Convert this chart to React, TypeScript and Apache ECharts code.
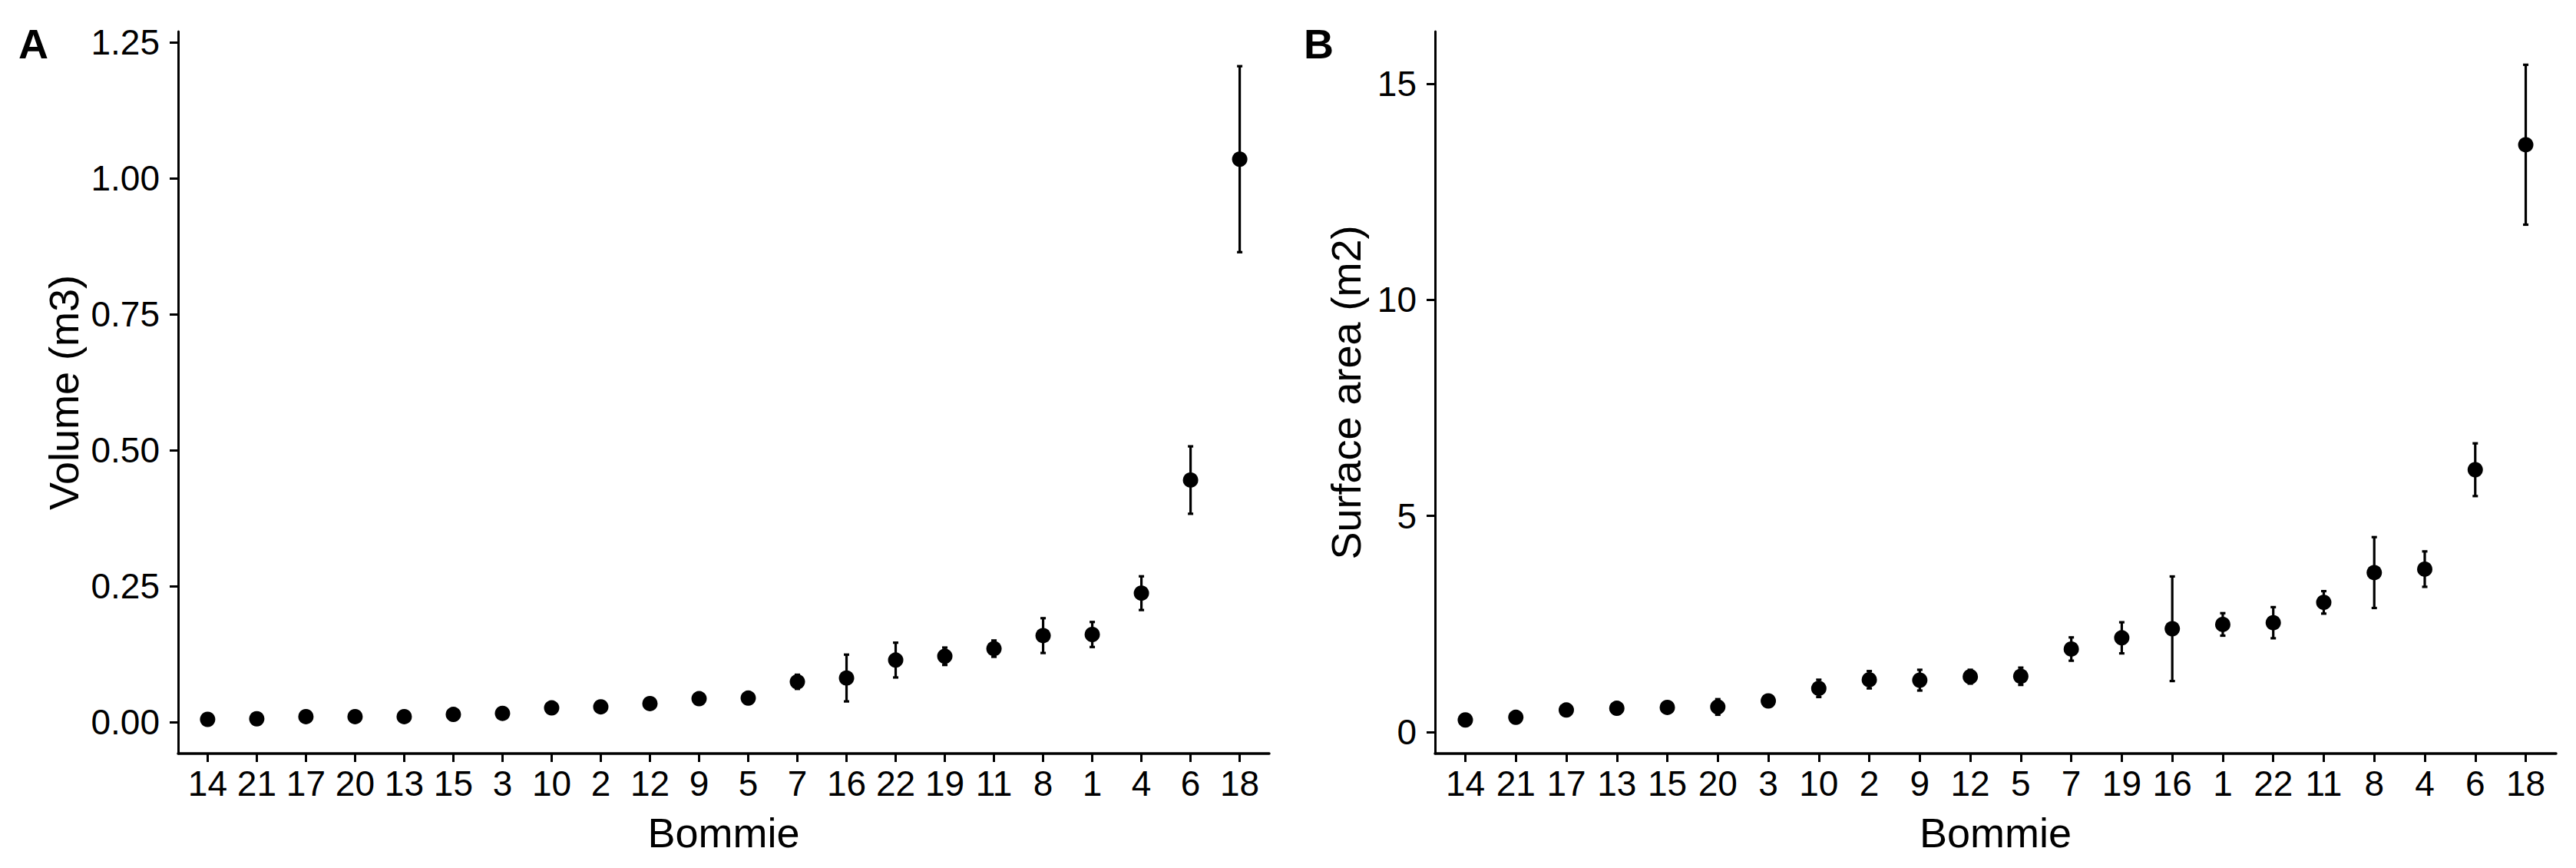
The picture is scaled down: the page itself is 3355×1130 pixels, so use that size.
import React, { useEffect, useRef } from "react";
import * as echarts from "echarts";

const categoriesA = ["14","21","17","20","13","15","3","10","2","12","9","5","7","16","22","19","11","8","1","4","6","18"];
const volumeMean = [0.005,0.006,0.010,0.010,0.010,0.014,0.016,0.026,0.028,0.034,0.043,0.044,0.074,0.081,0.114,0.121,0.135,0.159,0.161,0.237,0.445,1.035];
const volumeErr = [0.003,0.003,0.004,0.006,0.004,0.005,0.006,0.006,0.006,0.006,0.007,0.006,0.013,0.043,0.032,0.016,0.015,0.032,0.023,0.031,0.062,0.171];
const volumeTicks = [0, 0.25, 0.5, 0.75, 1.0, 1.25];

const categoriesB = ["14","21","17","13","15","20","3","10","2","9","12","5","7","19","16","1","22","11","8","4","6","18"];
const areaMean = [0.28,0.34,0.51,0.55,0.57,0.58,0.72,1.01,1.21,1.20,1.28,1.29,1.92,2.18,2.39,2.49,2.53,3.00,3.69,3.77,6.07,13.59];
const areaErr = [0.08,0.10,0.12,0.10,0.10,0.18,0.10,0.20,0.20,0.24,0.16,0.20,0.27,0.36,1.21,0.26,0.36,0.26,0.82,0.41,0.61,1.85];
const areaTicks = [0, 5, 10, 15];

const FONT = "Liberation Sans, Arial, Helvetica, sans-serif";
const BLACK = "#000000";

function errorRender(params: any, api: any) {
  const x = api.value(0);
  const lo = api.value(1);
  const hi = api.value(2);
  const pHi = api.coord([x, hi]);
  const pLo = api.coord([x, lo]);
  const cw = 3.5;
  const st = { stroke: BLACK, lineWidth: 3.2 };
  return {
    type: "group",
    children: [
      { type: "line", shape: { x1: pHi[0], y1: pHi[1], x2: pLo[0], y2: pLo[1] }, style: st },
      { type: "line", shape: { x1: pHi[0] - cw, y1: pHi[1], x2: pHi[0] + cw, y2: pHi[1] }, style: st },
      { type: "line", shape: { x1: pLo[0] - cw, y1: pLo[1], x2: pLo[0] + cw, y2: pLo[1] }, style: st },
    ],
  };
}

export default function App() {
  const ref = useRef<HTMLDivElement>(null);
  useEffect(() => {
    if (!ref.current) return;
    const chart = echarts.init(ref.current, null, { renderer: "svg" });
    const idx = categoriesA.map((_, i) => i);

    const makeX = (gridIndex: number, cats: string[]) => ({
      type: "value",
      gridIndex,
      min: -0.6,
      max: cats.length - 1 + 0.6,
      name: "Bommie",
      nameLocation: "middle",
      nameGap: 76,
      nameTextStyle: { fontFamily: FONT, fontSize: 54, color: BLACK },
      splitLine: { show: false },
      axisLine: { show: true, onZero: false, lineStyle: { color: BLACK, width: 3.5 } },
      axisTick: { show: true, length: 11, customValues: idx, lineStyle: { color: BLACK, width: 3 } },
      axisLabel: {
        customValues: idx,
        margin: 16,
        fontFamily: FONT,
        fontSize: 46,
        color: BLACK,
        formatter: (v: number) => cats[Math.round(v)] ?? "",
      },
    });

    const makeY = (gridIndex: number, min: number, max: number, ticks: number[], name: string, gap: number, fmt: (v: number) => string) => ({
      type: "value",
      gridIndex,
      min,
      max,
      name,
      nameLocation: "middle",
      nameGap: gap,
      nameTextStyle: { fontFamily: FONT, fontSize: 54, color: BLACK },
      splitLine: { show: false },
      axisLine: { show: true, onZero: false, lineStyle: { color: BLACK, width: 3 } },
      axisTick: { show: true, length: 11, customValues: ticks, lineStyle: { color: BLACK, width: 3 } },
      axisLabel: {
        customValues: ticks,
        margin: 24,
        fontFamily: FONT,
        fontSize: 46,
        color: BLACK,
        formatter: fmt,
      },
    });

    const option: any = {
      animation: false,
      backgroundColor: "#ffffff",
      grid: [
        { left: 232, top: 41, width: 1421, height: 940 },
        { left: 1869, top: 41, width: 1460, height: 940 },
      ],
      xAxis: [makeX(0, categoriesA), makeX(1, categoriesB)],
      yAxis: [
        makeY(0, -0.0579, 1.2698, volumeTicks, "Volume (m3)", 122, (v: number) => v.toFixed(2)),
        makeY(1, -0.498, 16.21, areaTicks, "Surface area (m2)", 89, (v: number) => String(v)),
      ],
      graphic: [
        { type: "text", left: 24, top: 30, style: { text: "A", fontFamily: FONT, fontSize: 54, fontWeight: "bold", fill: BLACK } },
        { type: "text", left: 1698, top: 30, style: { text: "B", fontFamily: FONT, fontSize: 54, fontWeight: "bold", fill: BLACK } },
      ],
      series: [
        {
          type: "custom",
          xAxisIndex: 0,
          yAxisIndex: 0,
          renderItem: errorRender,
          encode: { x: 0, y: [1, 2] },
          data: volumeMean.map((m, i) => [i, m - volumeErr[i], m + volumeErr[i]]),
          z: 3,
        },
        {
          type: "scatter",
          xAxisIndex: 0,
          yAxisIndex: 0,
          symbol: "circle",
          symbolSize: 20,
          itemStyle: { color: BLACK, opacity: 1 },
          data: volumeMean.map((m, i) => [i, m]),
          z: 4,
        },
        {
          type: "custom",
          xAxisIndex: 1,
          yAxisIndex: 1,
          renderItem: errorRender,
          encode: { x: 0, y: [1, 2] },
          data: areaMean.map((m, i) => [i, m - areaErr[i], m + areaErr[i]]),
          z: 3,
        },
        {
          type: "scatter",
          xAxisIndex: 1,
          yAxisIndex: 1,
          symbol: "circle",
          symbolSize: 20,
          itemStyle: { color: BLACK, opacity: 1 },
          data: areaMean.map((m, i) => [i, m]),
          z: 4,
        },
      ],
    };
    chart.setOption(option);
    return () => chart.dispose();
  }, []);

  return (
    <div
      ref={ref}
      style={{ position: "absolute", left: 0, top: 0, width: 3355, height: 1130, background: "#ffffff" }}
    />
  );
}
